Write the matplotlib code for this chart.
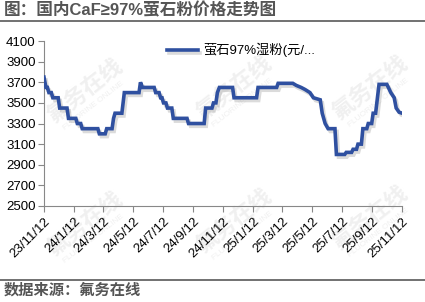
import matplotlib
matplotlib.use("Agg")
import matplotlib.pyplot as plt
import matplotlib.patheffects as pe
from matplotlib.lines import Line2D
import pandas as pd

plt.rcParams["font.family"] = ["Liberation Sans", "Noto Sans CJK SC"]

title = "图：国内CaF≥97%萤石粉价格走势图"
source = "数据来源：氟务在线"
series_name = "萤石97%湿粉(元/..."

dates = [
    "2023-11-12", "2023-11-16", "2023-11-19", "2023-11-22", "2023-11-27", "2023-11-30",
    "2023-12-11", "2023-12-14", "2023-12-29", "2024-01-01", "2024-01-16", "2024-01-19",
    "2024-01-26", "2024-01-29", "2024-03-01", "2024-03-04", "2024-03-16", "2024-03-19",
    "2024-03-30", "2024-04-02", "2024-04-05", "2024-04-19", "2024-04-24", "2024-05-24",
    "2024-05-27", "2024-05-31", "2024-06-24", "2024-06-27", "2024-07-04", "2024-07-07",
    "2024-07-10", "2024-07-13", "2024-07-18", "2024-07-21", "2024-07-30", "2024-08-02",
    "2024-08-30", "2024-09-02", "2024-10-04", "2024-10-07", "2024-10-20", "2024-10-23",
    "2024-10-28", "2024-10-31", "2024-11-04", "2024-12-01", "2024-12-04", "2025-01-19",
    "2025-01-22", "2025-03-01", "2025-03-04", "2025-04-03", "2025-04-10", "2025-04-20",
    "2025-04-28", "2025-05-08", "2025-05-15", "2025-05-29", "2025-06-02", "2025-06-08",
    "2025-06-14", "2025-06-28", "2025-07-01", "2025-07-18", "2025-07-21", "2025-08-01",
    "2025-08-04", "2025-08-11", "2025-08-14", "2025-08-21", "2025-08-24", "2025-09-01",
    "2025-09-04", "2025-09-11", "2025-09-14", "2025-09-19", "2025-09-26", "2025-10-12",
    "2025-10-20", "2025-10-27", "2025-10-31", "2025-11-06", "2025-11-12",
]
prices = [
    3750, 3650, 3650, 3600, 3600, 3550,
    3550, 3450, 3450, 3350, 3350, 3300,
    3300, 3250, 3250, 3200, 3200, 3250,
    3250, 3350, 3400, 3400, 3600, 3600,
    3700, 3650, 3650, 3600, 3600, 3550,
    3550, 3500, 3500, 3450, 3450, 3350,
    3350, 3300, 3300, 3450, 3450, 3500,
    3500, 3600, 3650, 3650, 3550, 3550,
    3650, 3650, 3690, 3690, 3670, 3650,
    3630, 3600, 3550, 3530, 3400, 3300,
    3250, 3250, 3000, 3000, 3020, 3020,
    3050, 3050, 3100, 3100, 3250, 3250,
    3300, 3300, 3400, 3400, 3680, 3680,
    3600, 3550, 3450, 3410, 3400,
]
tick_dates = [
    "2023-11-12", "2024-01-12", "2024-03-12", "2024-05-12", "2024-07-12",
    "2024-09-12", "2024-11-12", "2025-01-12", "2025-03-12", "2025-05-12",
    "2025-07-12", "2025-09-12", "2025-11-12",
]
y_ticks = [2500, 2700, 2900, 3100, 3300, 3500, 3700, 3900, 4100]

x = pd.to_datetime(dates)
ticks = pd.to_datetime(tick_dates)
tick_labels = [f"{d.year % 100}/{d.month}/{d.day}" for d in ticks]

fig = plt.figure(figsize=(4.25, 3.02), dpi=100)
ax = fig.add_axes([0.1035, 0.318, 0.8425, 0.546])

# faint watermark behind everything, as in the source image
for wx, wy in [(0.20, 0.70), (0.55, 0.71), (0.87, 0.71), (0.20, 0.26), (0.55, 0.27), (0.87, 0.28)]:
    fig.text(wx, wy, "氟务在线", fontsize=16, fontweight="bold", color="#f0f0f0",
             rotation=38, ha="center", va="center", family=["Noto Sans CJK SC"], zorder=-5)
    fig.text(wx + 0.02, wy - 0.05, "FLUORINE ONLINE", fontsize=6, color="#f0f0f0",
             rotation=38, ha="center", va="center", zorder=-5)

line, = ax.plot(x, prices, color="#2f50a0", lw=2.6, solid_joinstyle="miter", zorder=3,
                label=series_name)
line.set_path_effects([pe.SimpleLineShadow(offset=(1.5, -2), shadow_color="#999999", alpha=0.35),
                       pe.Normal()])

ax.set_xlim(ticks[0], ticks[-1])
ax.set_ylim(2500, 4100)
ax.set_yticks(y_ticks)
ax.set_xticks(ticks)
ax.set_xticklabels(tick_labels, rotation=45, ha="right", rotation_mode="anchor", fontsize=9.5)
ax.tick_params(axis="y", labelsize=9.5, length=4, color="#888888", pad=2)
ax.tick_params(axis="x", length=4, color="#888888", pad=3)
for s in ["top", "right"]:
    ax.spines[s].set_visible(False)
for s in ["left", "bottom"]:
    ax.spines[s].set_color("#888888")
ax.patch.set_alpha(0)

ax.legend(loc="upper center", bbox_to_anchor=(0.55, 1.06), frameon=False,
          handlelength=2.4, handletextpad=0.4,
          prop={"family": ["Liberation Sans", "Noto Sans CJK SC"], "size": 9.5})

fig.text(0.008, 0.967, title, fontsize=12, fontweight="bold", color="#555555",
         ha="left", va="center")
fig.add_artist(Line2D([0, 1], [0.930, 0.930], transform=fig.transFigure, color="#666666", lw=1.3))
fig.add_artist(Line2D([0, 1], [0.073, 0.073], transform=fig.transFigure, color="#666666", lw=1.3))
fig.text(0.008, 0.040, source, fontsize=11, fontweight="bold", color="#555555",
         ha="left", va="center")

fig.savefig("out.png", dpi=100)
